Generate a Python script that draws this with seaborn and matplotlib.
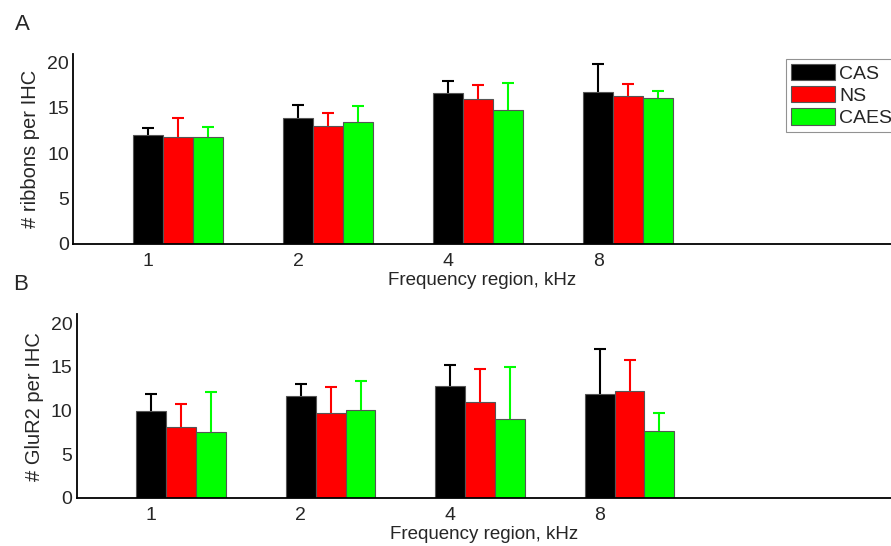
import matplotlib
matplotlib.use("Agg")
from matplotlib import pyplot as plt
import pandas as pd
import seaborn as sns
import numpy as np

regions = ['1', '2', '4', '8']
groups = ['CAS', 'NS', 'CAES']
colors = ['#000000', '#ff0000', '#00ff00']

# panel A: ribbons per IHC (mean, top of error bar)
ribbons_cas = [12.0, 13.9, 16.65, 16.7]
ribbons_ns = [11.8, 13.0, 15.95, 16.25]
ribbons_caes = [11.8, 13.45, 14.8, 16.05]
ribbons_cas_top = [12.8, 15.3, 17.95, 19.8]
ribbons_ns_top = [13.9, 14.4, 17.55, 17.6]
ribbons_caes_top = [12.9, 15.15, 17.7, 16.85]

# panel B: GluR2 per IHC
glur_cas = [9.95, 11.7, 12.75, 11.85]
glur_ns = [8.1, 9.7, 11.0, 12.2]
glur_caes = [7.55, 10.1, 9.0, 7.6]
glur_cas_top = [11.9, 13.0, 15.2, 17.1]
glur_ns_top = [10.7, 12.7, 14.8, 15.8]
glur_caes_top = [12.1, 13.4, 15.0, 9.75]

sns.set_style("white")
plt.rcParams['font.family'] = ['Liberation Sans', 'DejaVu Sans']


def make_df(a, b, c):
    rows = []
    for g, vals in zip(groups, [a, b, c]):
        for r, v in zip(regions, vals):
            rows.append({'region': r, 'group': g, 'value': v})
    return pd.DataFrame(rows)


def draw_panel(ax, means, tops, ylabel):
    df = make_df(*means)
    sns.barplot(data=df, x='region', y='value', hue='group', order=regions,
                hue_order=groups, palette=colors, saturation=1, width=0.6,
                dodge=True, edgecolor='#555555', linewidth=0.8, errorbar=None,
                legend=False, ax=ax)
    # one-sided error bars on the bar centres
    for cont, m, t, c in zip(ax.containers, means, tops, colors):
        xs = [p.get_x() + p.get_width() / 2 for p in cont.patches]
        err = np.array(t) - np.array(m)
        _, caps, _ = ax.errorbar(xs, m, yerr=[np.zeros(len(err)), err], fmt='none',
                                 ecolor=c, elinewidth=1.5, capsize=4.5,
                                 capthick=1.5, zorder=0)
        caps[0].set_visible(False)
    ax.set_ylim(0, 21)
    ax.set_yticks([0, 5, 10, 15, 20])
    ax.set_xticks(np.arange(len(regions)) - 0.2, regions)
    ax.set_xlim(-0.7, 4.75)
    ax.set_xlabel('Frequency region, kHz', fontsize=13.5, labelpad=1)
    ax.set_ylabel(ylabel, fontsize=14.5, labelpad=5)
    ax.tick_params(axis='y', direction='in', length=4, width=1, labelsize=14, pad=3)
    ax.tick_params(axis='x', direction='in', length=4, width=1, labelsize=14, pad=7)
    sns.despine(ax=ax)
    for s in ['left', 'bottom']:
        ax.spines[s].set_linewidth(1.3)
        ax.spines[s].set_color('black')


fig = plt.figure(figsize=(8.91, 5.46), dpi=100)
ax1 = fig.add_axes([0.082, 0.554, 0.918, 0.348])
ax2 = fig.add_axes([0.086, 0.0885, 0.914, 0.3355])

draw_panel(ax1, [ribbons_cas, ribbons_ns, ribbons_caes],
           [ribbons_cas_top, ribbons_ns_top, ribbons_caes_top], '# ribbons per IHC')
draw_panel(ax2, [glur_cas, glur_ns, glur_caes],
           [glur_cas_top, glur_ns_top, glur_caes_top], '# GluR2 per IHC')

handles = [plt.Rectangle((0, 0), 1, 1, facecolor=c, edgecolor='#555555', linewidth=0.8)
           for c in colors]
leg = fig.legend(handles, groups, loc='upper left', bbox_to_anchor=(0.882, 0.892),
                 fontsize=14, frameon=True, fancybox=False, handlelength=2.3,
                 handleheight=0.9, handletextpad=0.2, labelspacing=0.18,
                 borderpad=0.25, borderaxespad=0)
leg.get_frame().set_edgecolor('#777777')
leg.get_frame().set_linewidth(0.8)

fig.text(0.017, 0.945, 'A', fontsize=16)
fig.text(0.015, 0.468, 'B', fontsize=16)

fig.savefig('out.png', dpi=100)
